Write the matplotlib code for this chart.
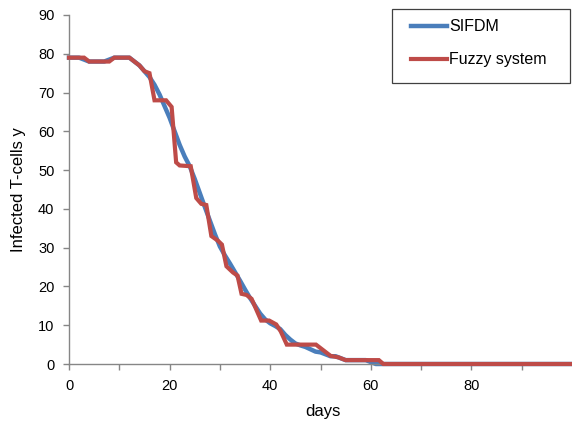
import matplotlib
matplotlib.use("Agg")
import matplotlib.pyplot as plt
from matplotlib.patches import Rectangle

plt.rcParams['font.family'] = ['Liberation Sans', 'DejaVu Sans']

# SIFDM (blue) values, one per day 0..61, then flat 0 to the end
sifdm_x = list(range(0, 62)) + [100]
sifdm_y = [79, 79, 79, 78.5, 78, 78, 78, 78, 78.5, 79,
           79, 79, 79, 78, 77, 75.5, 74, 72, 69.5, 66.5,
           63.5, 60, 56.5, 53.5, 51, 47.7, 44.1, 40.5, 37, 33.5,
           30.3, 28, 25.9, 23.7, 21.5, 19.2, 17, 15, 13, 11.5,
           10.5, 9.8, 9, 7.5, 6.3, 5.3, 4.8, 4.4, 3.8, 3.2,
           3, 2.5, 2, 2, 1.5, 1, 1, 1, 1, 1,
           0.5, 0, 0]

# Fuzzy system (red) break points
fuzzy_x = [0, 3, 4, 8, 9, 12, 13, 14, 15, 16, 17, 19.3, 20.4, 21.3, 22, 24.2,
           25.3, 26.3, 27.3, 28.3, 29.6, 30.4, 31.3, 32.6, 33.5, 34.3, 35.3,
           36.3, 38.2, 39.8, 41.2, 42.1, 43.3, 49.1, 50.1, 52, 53.6, 55,
           61.6, 62.5, 100]
fuzzy_y = [79, 79, 78, 78, 79, 79, 78, 77, 75.5, 75, 68, 68, 66.3, 52, 51.2, 51,
           42.8, 41.3, 41, 33, 31.8, 30.8, 25.2, 23.6, 22.8, 18.1, 17.8,
           16.8, 11.2, 11.2, 10.2, 8.4, 5, 5, 4, 2.1, 1.7, 1,
           1, 0, 0]

x_ticks = list(range(0, 100, 10))
x_tick_labels = ['0', '', '20', '', '40', '', '60', '', '80', '']
y_ticks = list(range(0, 100, 10))

series_names = ['SIFDM', 'Fuzzy system']
blue = '#4A7EBB'
red = '#BE4B48'
axis_grey = '#868686'

fig = plt.figure(figsize=(5.72, 4.23), dpi=100)
ax = fig.add_axes([69/572, 59/423, 503/572, 349/423])

ax.plot(sifdm_x, sifdm_y, color=blue, lw=3.2, solid_joinstyle='round',
        label=series_names[0], zorder=2, clip_on=False)
ax.plot(fuzzy_x, fuzzy_y, color=red, lw=3.0, solid_joinstyle='miter',
        label=series_names[1], zorder=3, clip_on=False)

ax.set_xlim(0, 100)
ax.set_ylim(0, 90)
ax.set_xticks(x_ticks)
ax.set_xticklabels(x_tick_labels)
ax.set_yticks(y_ticks)

for s in ['top', 'right']:
    ax.spines[s].set_visible(False)
for s in ['left', 'bottom']:
    ax.spines[s].set_color(axis_grey)
    ax.spines[s].set_linewidth(1.0)

ax.tick_params(axis='both', direction='out', length=4.5, width=1.0,
               color=axis_grey, labelsize=10.5, labelcolor='#000000', pad=6)

ax.set_xlabel('days', fontsize=12)
ax.xaxis.label.set_va('center')
ax.xaxis.set_label_coords((323 - 69) / 503, (364 - 411) / 349)
ax.set_ylabel('Infected T-cells y', fontsize=12)
ax.yaxis.label.set_va('center')
ax.yaxis.set_label_coords((19 - 69) / 503, (364 - 190) / 349)

leg = ax.legend(loc='upper left', bbox_to_anchor=(410.7/572, 1 - 19.1/423),
                bbox_transform=fig.transFigure, frameon=False, fontsize=11.5,
                borderpad=0, borderaxespad=0, handlelength=2.25,
                handletextpad=0.15, labelspacing=1.14)
fig.patches.append(Rectangle((391.7/572, 1 - 83.3/423), 178.3/572, 74.3/423,
                             transform=fig.transFigure, fill=False,
                             edgecolor='#404040', linewidth=0.9))

fig.savefig('out.png', dpi=100)
